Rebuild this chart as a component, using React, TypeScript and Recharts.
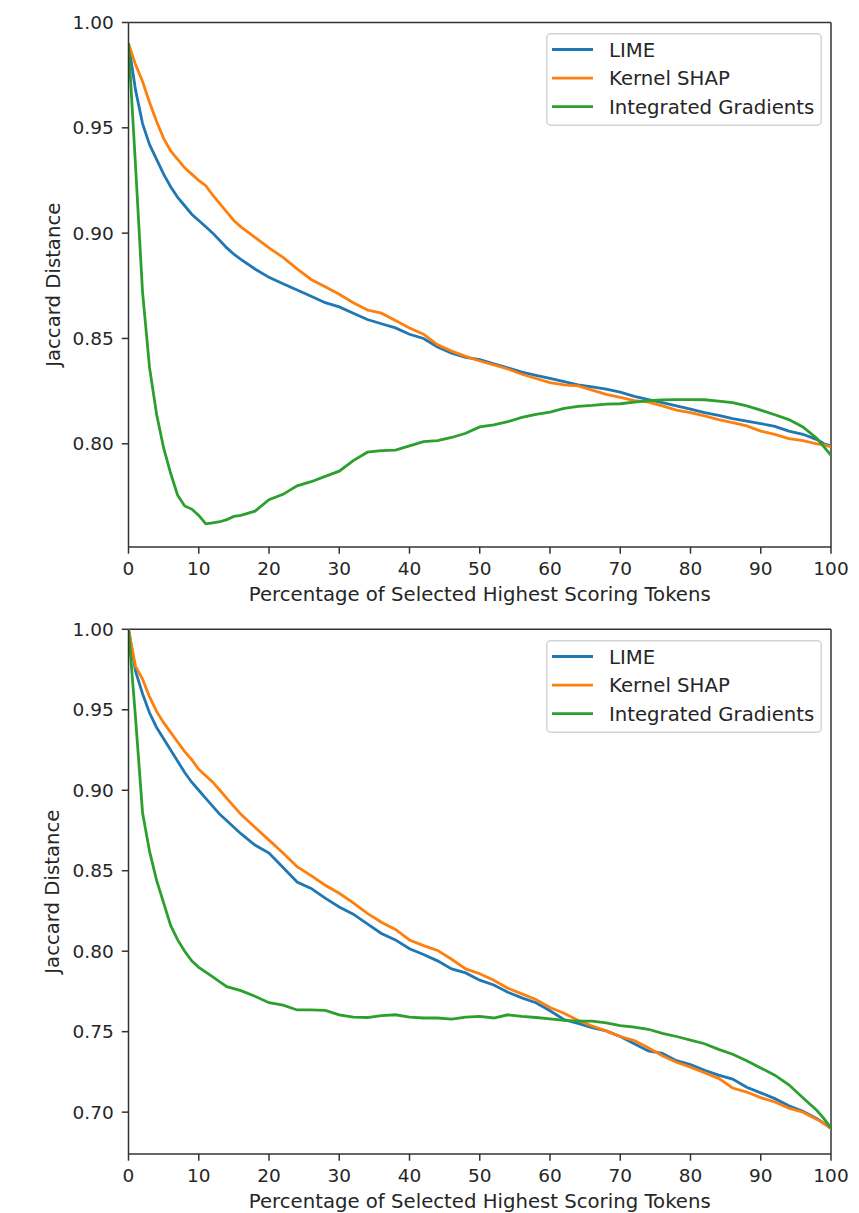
import React from 'react';
import { LineChart, Line, XAxis, YAxis, Legend, ReferenceLine } from 'recharts';

const xs = [0, 1, 2, 3, 4, 5, 6, 7, 8, 9, 10, 11, 12, 13, 14, 15, 16,
  18, 20, 22, 24, 26, 28, 30, 32, 34, 36, 38, 40, 42, 44, 46, 48, 50, 52, 54, 56, 58,
  60, 62, 64, 66, 68, 70, 72, 74, 76, 78, 80, 82, 84, 86, 88, 90, 92, 94, 96, 98, 99, 100];

const topLime = [0.990, 0.968, 0.952, 0.942, 0.935, 0.928, 0.922, 0.917, 0.913, 0.909, 0.906, 0.903, 0.900, 0.8965, 0.893, 0.890, 0.8875,
  0.883, 0.879, 0.876, 0.873, 0.870, 0.867, 0.865, 0.862, 0.859, 0.857, 0.855, 0.852, 0.850, 0.846, 0.843, 0.841, 0.840, 0.838, 0.836, 0.834, 0.8325,
  0.831, 0.8295, 0.828, 0.827, 0.826, 0.8245, 0.8225, 0.821, 0.8195, 0.818, 0.8165, 0.8148, 0.8135, 0.812, 0.8108, 0.8096, 0.8083, 0.806, 0.8045, 0.802, 0.800, 0.799];

const topShap = [0.990, 0.980, 0.972, 0.962, 0.953, 0.945, 0.939, 0.935, 0.931, 0.928, 0.925, 0.9225, 0.918, 0.914, 0.910, 0.906, 0.903,
  0.898, 0.893, 0.8885, 0.883, 0.878, 0.8745, 0.871, 0.867, 0.8635, 0.862, 0.8585, 0.855, 0.852, 0.847, 0.844, 0.8415, 0.8393, 0.8375, 0.8355, 0.833, 0.831,
  0.829, 0.828, 0.8275, 0.8255, 0.8235, 0.822, 0.8205, 0.8198, 0.818, 0.816, 0.8148, 0.8132, 0.8115, 0.810, 0.8085, 0.806, 0.8045, 0.8025, 0.8015, 0.800, 0.7995, 0.7985];

const topIg = [0.990, 0.932, 0.872, 0.836, 0.814, 0.798, 0.786, 0.7755, 0.7705, 0.769, 0.766, 0.762, 0.7625, 0.763, 0.764, 0.7655, 0.766,
  0.768, 0.7735, 0.776, 0.780, 0.782, 0.7845, 0.787, 0.792, 0.796, 0.7968, 0.797, 0.799, 0.801, 0.8015, 0.803, 0.805, 0.808, 0.809, 0.8105, 0.8125, 0.814,
  0.815, 0.8168, 0.8178, 0.8182, 0.8188, 0.819, 0.8198, 0.8205, 0.8208, 0.821, 0.821, 0.8209, 0.8203, 0.8195, 0.818, 0.816, 0.8138, 0.8115, 0.808, 0.8025, 0.7985, 0.7945];

const bottomLime = [1.000, 0.974, 0.960, 0.948, 0.939, 0.932, 0.925, 0.918, 0.911, 0.905, 0.900, 0.895, 0.890, 0.885, 0.881, 0.877, 0.873,
  0.866, 0.861, 0.852, 0.843, 0.839, 0.833, 0.8275, 0.823, 0.817, 0.811, 0.807, 0.8015, 0.798, 0.794, 0.789, 0.7865, 0.782, 0.779, 0.7745, 0.771, 0.768,
  0.763, 0.7575, 0.7552, 0.7525, 0.7505, 0.747, 0.7425, 0.738, 0.7365, 0.732, 0.7295, 0.726, 0.723, 0.7205, 0.7155, 0.712, 0.7084, 0.704, 0.7005, 0.696, 0.693, 0.690];

const bottomShap = [1.000, 0.977, 0.969, 0.958, 0.949, 0.942, 0.936, 0.930, 0.924, 0.919, 0.913, 0.909, 0.905, 0.900, 0.895, 0.890, 0.885,
  0.877, 0.869, 0.861, 0.8525, 0.847, 0.841, 0.836, 0.830, 0.8235, 0.818, 0.8135, 0.807, 0.8035, 0.8005, 0.795, 0.789, 0.786, 0.782, 0.777, 0.7735, 0.770,
  0.765, 0.7615, 0.757, 0.7535, 0.7505, 0.747, 0.7445, 0.740, 0.735, 0.731, 0.728, 0.7245, 0.721, 0.715, 0.7125, 0.709, 0.7063, 0.7025, 0.700, 0.6955, 0.693, 0.690];

const bottomIg = [1.000, 0.945, 0.886, 0.862, 0.844, 0.830, 0.816, 0.807, 0.800, 0.794, 0.790, 0.787, 0.784, 0.781, 0.778, 0.7768, 0.7755,
  0.772, 0.768, 0.7665, 0.7635, 0.7635, 0.7632, 0.7605, 0.759, 0.7588, 0.760, 0.7605, 0.759, 0.7585, 0.7585, 0.7578, 0.759, 0.7595, 0.7585, 0.7605, 0.7595, 0.7588,
  0.758, 0.757, 0.7565, 0.7565, 0.7555, 0.7538, 0.7528, 0.7515, 0.749, 0.747, 0.7448, 0.7425, 0.739, 0.736, 0.732, 0.7275, 0.723, 0.717, 0.709, 0.701, 0.696, 0.690];

const xTicks = [0, 10, 20, 30, 40, 50, 60, 70, 80, 90, 100];
const topYTicks = [0.8, 0.85, 0.9, 0.95, 1.0];
const bottomYTicks = [0.7, 0.75, 0.8, 0.85, 0.9, 0.95, 1.0];
const seriesNames = ['LIME', 'Kernel SHAP', 'Integrated Gradients'];
const seriesKeys = ['lime', 'shap', 'ig'];
const colors = ['#1f77b4', '#ff7f0e', '#2ca02c'];
const xLabel = 'Percentage of Selected Highest Scoring Tokens';
const yLabel = 'Jaccard Distance';

const FONT = 'DejaVu Sans';
const FS = 18.5;
const LFS = 19.7;
const TXT = '#262626';
const SPINE = '#333333';

const LegendBox = () => (
  <svg width={276} height={93} style={{ display: 'block' }}>
    <rect x={0.75} y={0.75} width={274.5} height={91.5} rx={4} ry={4}
      fill="rgba(255,255,255,0.85)" stroke="#d4d4d4" strokeWidth={1.5} />
    {seriesNames.map((n, i) => {
      const cy = 16.5 + i * 28.6;
      return (
        <g key={n}>
          <line x1={6} x2={47} y1={cy} y2={cy} stroke={colors[i]} strokeWidth={2.8} />
          <text x={63} y={cy} dy="0.36em" fontFamily={FONT} fontSize={LFS} fill={TXT}>{n}</text>
        </g>
      );
    })}
  </svg>
);

type PanelProps = {
  lime: number[]; shap: number[]; ig: number[];
  yDomain: [number, number]; yTicks: number[];
  height: number; marginTop: number;
};

const Panel = ({ lime, shap, ig, yDomain, yTicks, height, marginTop }: PanelProps) => {
  const rows = xs.map((x, i) => ({ x, lime: lime[i], shap: shap[i], ig: ig[i] }));
  const tickStyle = { fontSize: FS, fill: TXT, fontFamily: FONT };
  return (
    <LineChart width={859} height={height} data={rows}
      margin={{ top: marginTop, right: 28, bottom: 0, left: 8.5 }}>
      <XAxis dataKey="x" type="number" domain={[0, 100]} ticks={xTicks} allowDataOverflow
        height={59} tickSize={6.7} tickMargin={8}
        axisLine={{ stroke: SPINE, strokeWidth: 1.5 }}
        tickLine={{ stroke: SPINE, strokeWidth: 1.5 }}
        tick={tickStyle}
        label={{
          content: (p: any) => {
            const vb = p.viewBox || {};
            return (
              <text x={vb.x + vb.width / 2} y={vb.y + 53.5} textAnchor="middle"
                fontFamily={FONT} fontSize={LFS} fill={TXT}>{xLabel}</text>
            );
          },
        }}
      />
      <YAxis type="number" domain={yDomain} ticks={yTicks} allowDataOverflow
        width={120} tickSize={6.7} tickMargin={8}
        tickFormatter={(v: number) => v.toFixed(2)}
        axisLine={{ stroke: SPINE, strokeWidth: 1.5 }}
        tickLine={{ stroke: SPINE, strokeWidth: 1.5 }}
        tick={tickStyle}
        label={{
          content: (p: any) => {
            const vb = p.viewBox || {};
            const cx = vb.x + vb.width - 69;
            const cy = vb.y + vb.height / 2;
            return (
              <text x={cx} y={cy} textAnchor="middle" transform={`rotate(-90, ${cx}, ${cy})`}
                fontFamily={FONT} fontSize={LFS} fill={TXT}>{yLabel}</text>
            );
          },
        }}
      />
      <ReferenceLine y={yDomain[1]} stroke={SPINE} strokeWidth={1.5} ifOverflow="visible" />
      <ReferenceLine x={100} stroke={SPINE} strokeWidth={1.5} ifOverflow="visible" />
      {seriesKeys.map((k, i) => (
        <Line key={k} type="linear" dataKey={k} name={seriesNames[i]} stroke={colors[i]}
          strokeWidth={2.8} dot={false} activeDot={false} isAnimationActive={false} />
      ))}
      <Legend layout="vertical" align="center" verticalAlign="middle"
        wrapperStyle={{ left: 546, top: marginTop + 10.5, width: 276, height: 93 }}
        content={() => <LegendBox />} />
    </LineChart>
  );
};

export default function App() {
  return (
    <div style={{ position: 'absolute', left: 0, top: 0, width: 859, height: 1213, background: '#fff' }}>
      <Panel lime={topLime} shap={topShap} ig={topIg} yDomain={[0.751, 1.0]} yTicks={topYTicks}
        height={606} marginTop={22.5} />
      <Panel lime={bottomLime} shap={bottomShap} ig={bottomIg} yDomain={[0.674, 1.0]} yTicks={bottomYTicks}
        height={607} marginTop={23.3} />
    </div>
  );
}
